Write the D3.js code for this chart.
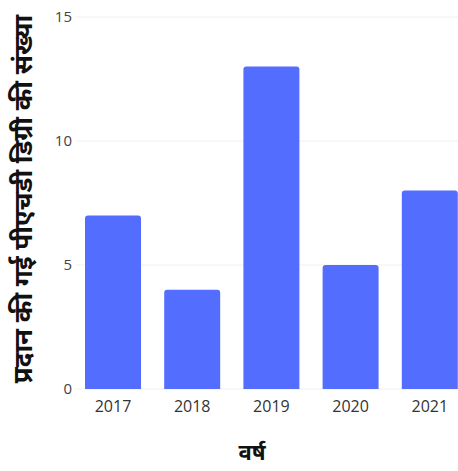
<!DOCTYPE html>
<html><head><meta charset="utf-8">
<script src="https://cdn.jsdelivr.net/npm/d3@7"></script>
<style>body{margin:0;background:#fff}svg{display:block}</style>
</head><body>
<svg id="c" width="458" height="471"></svg>
<script>
const years = ["2017","2018","2019","2020","2021"];
const phdCounts = [7, 4, 13, 5, 8];
const yTicks = [0, 5, 10, 15];
const xTitle = "वर्ष";
const yTitle = "प्रदान की गई पीएचडी डिग्री की संख्या";

const svg = d3.select("#c");
const font = "'Open Sans','Noto Sans',sans-serif";
const x = d3.scaleBand().domain(years).range([73.4, 469.4]).paddingInner(0.293).paddingOuter(0.1465);
const y = d3.scaleLinear().domain([0, 15]).range([389, 17]);

// gridlines
svg.append("g").selectAll("line").data(yTicks).join("line")
  .attr("x1", 76).attr("x2", 458)
  .attr("y1", d => y(d)).attr("y2", d => y(d))
  .attr("stroke", "#f0f0f0").attr("stroke-width", 1);

// bars with rounded top corners
const r = 3;
svg.append("g").selectAll("path").data(years).join("path")
  .attr("fill", "#536dfe")
  .attr("d", (d, i) => {
    const x0 = x(d), w = x.bandwidth(), y0 = y(phdCounts[i]), yb = y(0);
    return `M${x0},${yb}V${y0 + r}Q${x0},${y0} ${x0 + r},${y0}H${x0 + w - r}Q${x0 + w},${y0} ${x0 + w},${y0 + r}V${yb}Z`;
  });

// y axis
const ya = svg.append("g").attr("transform", "translate(72,0)")
  .call(d3.axisLeft(y).tickValues(yTicks).tickSize(0).tickPadding(0));
ya.select(".domain").remove();
ya.selectAll("text").attr("font-family", font).attr("font-size", 15).attr("fill", "#444");

// x axis
const xa = svg.append("g").attr("transform", "translate(0,389)")
  .call(d3.axisBottom(x).tickSize(0).tickPadding(12));
xa.select(".domain").remove();
xa.selectAll("text").attr("font-family", font).attr("font-size", 16).attr("fill", "#333");

// titles
svg.append("text").attr("x", 252).attr("y", 460).attr("text-anchor", "middle")
  .attr("font-family", font).attr("font-weight", "bold").attr("font-size", 22).attr("fill", "#111")
  .text(xTitle);
svg.append("text").attr("transform", "translate(32,199) rotate(-90)").attr("text-anchor", "middle")
  .attr("font-family", font).attr("font-weight", "bold").attr("font-size", 26).attr("fill", "#111")
  .text(yTitle);
</script>
</body></html>
